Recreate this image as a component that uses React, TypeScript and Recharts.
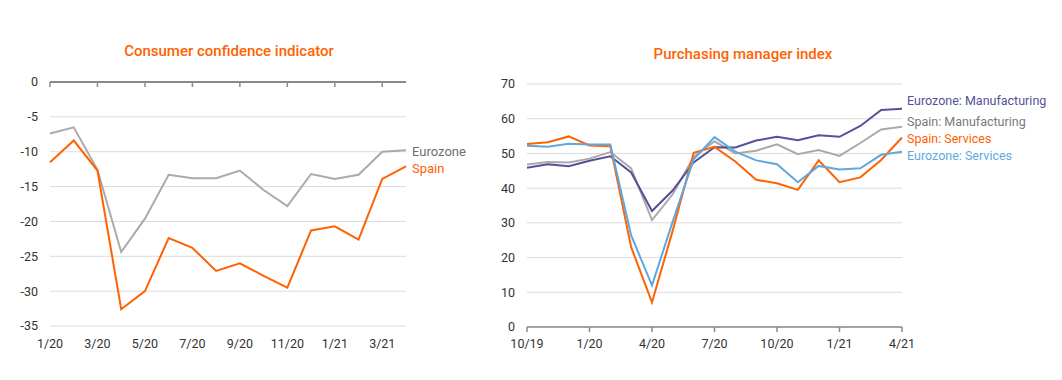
import { LineChart, Line, XAxis, YAxis, CartesianGrid, ReferenceLine } from 'recharts';

const FONT = 'Roboto, "Noto Sans", sans-serif';
const ORANGE = '#ff6200';
const GREY = '#aaaaaa';
const PURPLE = '#53519b';
const BLUE = '#5fa7df';
const AXIS = '#8a8a8a';

// consumer confidence, monthly 1/20 .. 4/21
const ccMonths = ['1/20', '2/20', '3/20', '4/20', '5/20', '6/20', '7/20', '8/20', '9/20', '10/20', '11/20', '12/20', '1/21', '2/21', '3/21', '4/21'];
const ccEurozone = [-7.4, -6.5, -12.6, -24.4, -19.6, -13.3, -13.8, -13.8, -12.7, -15.5, -17.8, -13.2, -13.9, -13.3, -10.0, -9.8];
const ccSpain = [-11.5, -8.4, -12.7, -32.6, -30.0, -22.4, -23.8, -27.1, -26.0, -27.8, -29.5, -21.3, -20.7, -22.6, -13.9, -12.1];
const ccTicks = [0, -5, -10, -15, -20, -25, -30, -35];

// PMI, monthly 10/19 .. 4/21
const pmiMonths = ['10/19', '11/19', '12/19', '1/20', '2/20', '3/20', '4/20', '5/20', '6/20', '7/20', '8/20', '9/20', '10/20', '11/20', '12/20', '1/21', '2/21', '3/21', '4/21'];
const ezManufacturing = [45.9, 46.9, 46.3, 47.9, 49.2, 44.5, 33.4, 39.4, 47.4, 51.8, 51.7, 53.7, 54.8, 53.8, 55.2, 54.8, 57.9, 62.5, 62.9];
const spManufacturing = [46.8, 47.5, 47.4, 48.5, 50.4, 45.7, 30.8, 38.3, 49.0, 53.5, 50.0, 50.8, 52.6, 49.8, 51.0, 49.3, 53.0, 56.9, 57.7];
const spServices = [52.7, 53.2, 54.9, 52.3, 52.1, 23.0, 7.1, 27.9, 50.2, 51.9, 47.7, 42.4, 41.4, 39.5, 48.0, 41.7, 43.1, 48.1, 54.6];
const ezServices = [52.2, 51.9, 52.8, 52.6, 52.6, 26.4, 12.0, 30.5, 48.3, 54.7, 50.5, 48.0, 46.9, 41.7, 46.4, 45.4, 45.7, 49.6, 50.5];
const pmiTicks = [0, 10, 20, 30, 40, 50, 60, 70];

const ccData = ccMonths.map((month, i) => ({ month, eurozone: ccEurozone[i], spain: ccSpain[i] }));
const pmiData = pmiMonths.map((month, i) => ({
  month,
  ezMfg: ezManufacturing[i],
  spMfg: spManufacturing[i],
  spSvc: spServices[i],
  ezSvc: ezServices[i],
}));

const tickStyle = { fontSize: 12.5, fill: '#333', fontFamily: FONT };

// left chart: the zero line is at the top of the plot, its ticks point down,
// but the month labels sit below the plot
const CC_PLOT_TOP = 82;
const CC_PLOT_BOTTOM = 326;

const CcTick = (props: any) => {
  const { x, y, payload } = props;
  return (
    <g>
      <line x1={x} x2={x} y1={CC_PLOT_TOP} y2={CC_PLOT_TOP + 5} stroke={AXIS} strokeWidth={1.5} />
      <text x={x} y={y} dy="0.71em" textAnchor="middle" {...tickStyle}>
        {payload.value}
      </text>
    </g>
  );
};

const Label = ({ x, y, color, size = 12.5, children }: { x: number; y: number; color: string; size?: number; children: string }) => (
  <div
    style={{
      position: 'absolute',
      left: x,
      top: y - size / 2,
      lineHeight: `${size}px`,
      fontSize: size,
      fontFamily: FONT,
      color,
      whiteSpace: 'nowrap',
    }}
  >
    {children}
  </div>
);

const Title = ({ cx, cy, children }: { cx: number; cy: number; children: string }) => (
  <div
    style={{
      position: 'absolute',
      left: cx,
      top: cy - 9,
      transform: 'translateX(-50%)',
      lineHeight: '18px',
      fontSize: 15,
      fontWeight: 500,
      fontFamily: FONT,
      color: ORANGE,
      whiteSpace: 'nowrap',
    }}
  >
    {children}
  </div>
);

export default function App() {
  return (
    <div style={{ position: 'absolute', left: 0, top: 0, width: 1062, height: 380, background: '#fff', overflow: 'hidden' }}>
      <Title cx={229} cy={50.7}>Consumer confidence indicator</Title>
      <Title cx={743} cy={53.5}>Purchasing manager index</Title>

      <div style={{ position: 'absolute', left: 0, top: 0 }}>
        <LineChart
          width={480}
          height={380}
          data={ccData}
          margin={{ top: CC_PLOT_TOP, right: 74, bottom: 380 - CC_PLOT_BOTTOM - 30, left: 0 }}
        >
          <CartesianGrid vertical={false} stroke="#dcdcdc" />
          <XAxis
            dataKey="month"
            interval={1}
            height={30}
            tickSize={0}
            tickMargin={13}
            axisLine={false}
            tickLine={false}
            tick={<CcTick />}
          />
          <YAxis domain={[-35, 0]} ticks={ccTicks} width={50} axisLine={false} tickLine={false} tickSize={0} tickMargin={12} tick={tickStyle} />
          <ReferenceLine y={0} stroke={AXIS} strokeWidth={2} />
          <Line dataKey="eurozone" stroke={GREY} strokeWidth={2} dot={false} isAnimationActive={false} />
          <Line dataKey="spain" stroke={ORANGE} strokeWidth={2} dot={false} isAnimationActive={false} />
        </LineChart>
      </div>

      <div style={{ position: 'absolute', left: 470, top: 0 }}>
        <LineChart width={592} height={380} data={pmiData} margin={{ top: 84, right: 160, bottom: 23, left: 10 }}>
          <CartesianGrid vertical={false} stroke="#dcdcdc" />
          <XAxis
            dataKey="month"
            interval={2}
            height={30}
            tickSize={5}
            tickMargin={7}
            axisLine={{ stroke: AXIS, strokeWidth: 1.5 }}
            tickLine={{ stroke: AXIS, strokeWidth: 1.5 }}
            tick={tickStyle}
          />
          <YAxis domain={[0, 70]} ticks={pmiTicks} width={47} axisLine={false} tickLine={false} tickSize={0} tickMargin={12} tick={tickStyle} />
          <Line dataKey="spMfg" stroke={GREY} strokeWidth={2} dot={false} isAnimationActive={false} />
          <Line dataKey="ezMfg" stroke={PURPLE} strokeWidth={2} dot={false} isAnimationActive={false} />
          <Line dataKey="spSvc" stroke={ORANGE} strokeWidth={2} dot={false} isAnimationActive={false} />
          <Line dataKey="ezSvc" stroke={BLUE} strokeWidth={2} dot={false} isAnimationActive={false} />
        </LineChart>
      </div>

      <Label x={412} y={151.7} color="#6e6e6e" size={13}>Eurozone</Label>
      <Label x={412} y={168} color={ORANGE} size={13}>Spain</Label>

      <Label x={907} y={101.7} color={PURPLE}>Eurozone: Manufacturing</Label>
      <Label x={907} y={122.7} color="#7a7a7a">Spain: Manufacturing</Label>
      <Label x={907} y={139} color={ORANGE}>Spain: Services</Label>
      <Label x={907} y={156} color={BLUE}>Eurozone: Services</Label>
    </div>
  );
}
